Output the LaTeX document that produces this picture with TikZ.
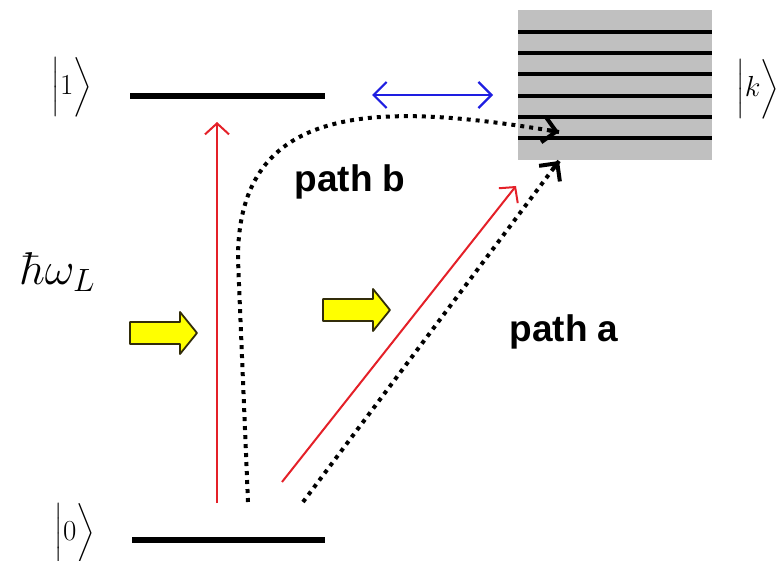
\RequirePackage{fix-cm}
\documentclass[tikz,border=0pt]{standalone}
\usepackage{amsmath}
\usepackage{fontspec}
\setsansfont{Liberation Sans}
\usetikzlibrary{arrows.meta,calc}
\definecolor{myred}{RGB}{228,32,40}
\definecolor{myblue}{RGB}{30,30,225}
\definecolor{myyellow}{RGB}{255,255,0}
\definecolor{myolive}{RGB}{50,45,10}
\definecolor{bandgray}{RGB}{192,192,192}
\begin{document}
\begin{tikzpicture}[x=1pt,y=-1pt,
  levelline/.style={line width=6pt},
  bandline/.style={line width=3.5pt},
  redarrow/.style={draw=myred,line width=2pt,-{Straight Barb[length=11pt,width=24pt]}},
  bluearrow/.style={draw=myblue,line width=2.2pt,{Straight Barb[length=13pt,width=26pt]}-{Straight Barb[length=13pt,width=26pt]}},
  dotpath/.style={line width=4pt,dash pattern=on 4pt off 5pt},
  dottip/.style={line width=4pt,-{Straight Barb[length=13pt,width=26pt,line width=4pt]}},
  yarrowstyle/.style={fill=myyellow,draw=myolive,line width=1.8pt,line join=round},
  ket/.style={font=\fontsize{29}{35}\selectfont},
  pathlabel/.style={font=\sffamily\bfseries\fontsize{37}{44}\selectfont},
  yellowarrow/.pic={\draw[yarrowstyle] (0,-11) -- (50,-11) -- (50,-21) -- (67,0) -- (50,21) -- (50,11) -- (0,11) -- cycle;}
]
\useasboundingbox (0,0) rectangle (784,561);

% continuum band
\fill[bandgray] (518,10) rectangle (712,160);
\foreach \yy in {32,53,74,96,117,138}
  \draw[bandline] (518,\yy) -- (712,\yy);

% discrete levels
\coordinate (l1a) at (130,96);
\coordinate (l1b) at (325,96);
\coordinate (l0a) at (132,540);
\coordinate (l0b) at (325,540);
\draw[levelline] (l1a) -- (l1b);
\draw[levelline] (l0a) -- (l0b);

% labels
\node[ket] (k1) at (72,87) {$\Bigl|1\Bigr\rangle$};
\node[ket] (k0) at (75,533) {$\Bigl|0\Bigr\rangle$};
\node[ket] (kk) at (758,89) {$\Bigl|k\Bigr\rangle$};
\node[font=\fontsize{46}{52}\selectfont] (hw) at (58,272) {$\hbar\omega_L$};
\node[pathlabel] (pb) at (350,182) {path b};
\node[pathlabel] (pa) at (564,332) {path a};

% yellow photon arrows
\pic at (130,333) {yellowarrow};
\pic at (323,310) {yellowarrow};

% red excitation arrows
\coordinate (r1s) at (217,503);
\coordinate (r1e) at (217,122);
\coordinate (r2s) at (282,482);
\coordinate (r2e) at (516,186);
\draw[redarrow] (r1s) -- (r1e);
\draw[redarrow] (r2s) -- (r2e);

% blue coupling arrow
\coordinate (bl) at (372,95);
\coordinate (br) at (493,95);
\draw[bluearrow] (bl) -- (br);

% dotted paths
\coordinate (pbs) at (248,502);
\coordinate (pbm) at (238,260);
\coordinate (pbc) at (380,102);
\coordinate (pbe) at (559,132);
\coordinate (pas) at (303,502);
\coordinate (pae) at (559,161);
\draw[dotpath] (pbs) -- (pbm) .. controls (237,100) and (pbc) .. (pbe);
\draw[dottip] ($(pbe)!10pt!(pbc)$) -- (pbe);
\draw[dotpath] (pas) -- (pae);
\draw[dottip] ($(pae)!10pt!(pas)$) -- (pae);
\end{tikzpicture}
\end{document}
